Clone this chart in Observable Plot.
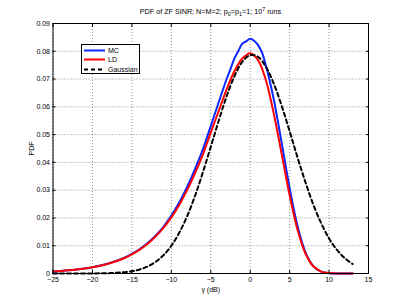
<!DOCTYPE html>
<html><head><meta charset="utf-8">
<script src="https://cdn.jsdelivr.net/npm/d3@7"></script>
<script src="https://cdn.jsdelivr.net/npm/@observablehq/plot@0.6"></script>
<style>
body{margin:0;background:#fff;font-family:"Liberation Sans",Arial,sans-serif;}
#wrap{position:relative;width:407px;height:307px;overflow:hidden;background:#fff;}
#title{position:absolute;top:7px;left:14px;width:393px;text-align:center;font-size:7.2px;line-height:10px;color:#000;white-space:nowrap;}
#title sub,#title sup{font-size:5.5px;line-height:0;}
#chart{position:absolute;top:18px;left:0;}
#legend{position:absolute;left:81px;top:44px;width:57px;height:28px;border:1px solid #000;background:#fff;font-size:7px;}
.row{position:absolute;left:0;height:9px;width:57px;}
.row svg{position:absolute;left:2px;top:0;}
.row span{position:absolute;left:26px;top:0;line-height:9px;}
</style></head>
<body>
<div id="wrap">
  <div id="title">PDF of ZF SINR; N=M=2; p<sub>0</sub>=p<sub>1</sub>=1; 10<sup>7</sup> runs</div>
  <div id="chart"></div>
  <div id="legend"></div>
</div>
<script>
// x tick values and y tick values
const xTicks = [-25, -20, -15, -10, -5, 0, 5, 10, 15];
const yTicks = [0, 0.01, 0.02, 0.03, 0.04, 0.05, 0.06, 0.07, 0.08, 0.09];

// MC (simulation) curve
const mcX = [-25,-24,-23,-22,-21,-20,-19,-18,-17,-16,-15,-14,-13,-12,-11,-10,-9,-8,-7,-6,-5,-4,-3,-2.5,-2,-1.5,-1,-0.5,0,0.5,1,1.5,2,2.5,3,4,5,6,7,8,9,10,11,12,13];
const mcPdf = [0.00073,0.00091,0.00115,0.00144,0.00181,0.00228,0.00286,0.00359,0.00450,0.00564,0.00705,0.00881,0.01097,0.01361,0.01683,0.02084,0.02557,0.03115,0.03755,0.04471,0.05308,0.06157,0.06993,0.0736,0.07745,0.0801,0.08275,0.0836,0.0845,0.0838,0.0822,0.0795,0.07475,0.0690,0.06255,0.04692,0.03082,0.01712,0.00769,0.00265,0.00065,0.0001,0.00001,0,0];

// LD and Gaussian curves share one grid
const gridX = [-25,-24,-23,-22,-21,-20,-19,-18,-17,-16,-15,-14,-13,-12,-11,-10,-9,-8,-7,-6,-5,-4,-3,-2,-1,0,1,2,3,4,5,6,7,8,9,10,11,12,13];
const ldPdf = [0.00072,0.0009,0.00113,0.00142,0.00178,0.00224,0.0028,0.0035,0.0044,0.0055,0.0069,0.0086,0.0107,0.0133,0.0164,0.0202,0.0247,0.0300,0.0361,0.0428,0.0507,0.0584,0.0662,0.0728,0.0774,0.0793,0.0768,0.0695,0.0574,0.0429,0.0282,0.0158,0.0072,0.0026,0.0007,0.0002,0.00003,0,0];
const gaussPdf = [0,0,0,0,0.00001,0.00003,0.00006,0.00012,0.00023,0.00045,0.00083,0.00147,0.00252,0.00415,0.00656,0.00999,0.01464,0.0206,0.0279,0.0364,0.0456,0.0549,0.0637,0.0710,0.0762,0.0786,0.0780,0.0744,0.0683,0.0603,0.0512,0.0418,0.0329,0.0248,0.0181,0.0126,0.0085,0.0055,0.0034];

const seriesNames = ["MC", "LD", "Gaussian"];

const mc = mcX.map((x, i) => ({x, y: mcPdf[i]}));
const ld = gridX.map((x, i) => ({x, y: ldPdf[i]}));
const ga = gridX.map((x, i) => ({x, y: gaussPdf[i]}));

const font = "Liberation Sans, Arial, sans-serif";
const yFmt = d => d === 0 ? "0" : d.toFixed(2);
const xFmt = d3.format("d");

const chart = Plot.plot({
  width: 407, height: 289,
  marginLeft: 52.5, marginRight: 39, marginTop: 5, marginBottom: 34,
  style: {fontFamily: font, fontSize: "7px", background: "white", color: "#000"},
  x: {domain: [-25, 15]},
  y: {domain: [0, 0.09]},
  marks: [
    Plot.gridX(xTicks, {stroke: "#000", strokeOpacity: 0.45, strokeDasharray: "1,2"}),
    Plot.gridY(yTicks, {stroke: "#000", strokeOpacity: 0.45, strokeDasharray: "1,2"}),
    Plot.line(mc, {x: "x", y: "y", stroke: "#0a28ff", strokeWidth: 2, curve: "catmull-rom"}),
    Plot.line(ld, {x: "x", y: "y", stroke: "#ff0000", strokeWidth: 2, curve: "catmull-rom"}),
    Plot.line(ga, {x: "x", y: "y", stroke: "#000", strokeWidth: 2, strokeDasharray: "4,3", curve: "catmull-rom"}),
    Plot.frame({stroke: "#000"}),
    Plot.axisX(xTicks, {anchor: "bottom", tickSize: 0, tickPadding: 4, tickFormat: xFmt, label: "γ (dB)", labelAnchor: "center", labelArrow: "none", labelOffset: 18}),
    Plot.axisY(yTicks, {anchor: "left", tickSize: 0, tickPadding: 3, tickFormat: yFmt, label: "PDF", labelAnchor: "center", labelArrow: "none", labelOffset: 24}),
    Plot.axisX(xTicks, {anchor: "bottom", tickSize: -3, fill: "none", label: null}),
    Plot.axisX(xTicks, {anchor: "top", tickSize: -3, fill: "none", label: null}),
    Plot.axisY(yTicks, {anchor: "left", tickSize: -3, fill: "none", label: null}),
    Plot.axisY(yTicks, {anchor: "right", tickSize: -3, fill: "none", label: null})
  ]
});
document.getElementById("chart").appendChild(chart);

// legend
const legendStyles = [
  {stroke: "#0a28ff", dash: null},
  {stroke: "#ff0000", dash: null},
  {stroke: "#000", dash: "4,3"}
];
const legend = document.getElementById("legend");
seriesNames.forEach((name, i) => {
  const row = document.createElement("div");
  row.className = "row";
  row.style.top = (1 + i * 9.4) + "px";
  const s = legendStyles[i];
  row.innerHTML = `<svg width="22" height="9"><line x1="0" x2="21" y1="4.5" y2="4.5" stroke="${s.stroke}" stroke-width="2" ${s.dash ? `stroke-dasharray="${s.dash}"` : ""}/></svg><span>${name}</span>`;
  legend.appendChild(row);
});
</script>
</body></html>
